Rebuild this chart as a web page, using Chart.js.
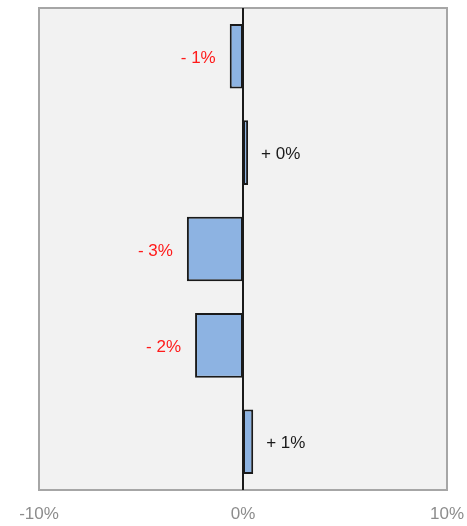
<!DOCTYPE html>
<html>
<head>
<meta charset="utf-8">
<script src="https://cdn.jsdelivr.net/npm/chart.js@4/dist/chart.umd.min.js"></script>
<style>
html,body{margin:0;padding:0;background:#fff;}
#wrap{width:467px;height:526px;position:relative;}
</style>
</head>
<body>
<div id="wrap"><canvas id="c" width="467" height="526"></canvas></div>
<script>
const categories = ["A", "B", "C", "D", "E"];
const values = [-0.65, 0.25, -2.75, -2.35, 0.5];
const valueLabels = ["- 1%", "+ 0%", "- 3%", "- 2%", "+ 1%"];
const xTicks = [-10, 0, 10];

const plotFrame = {
  id: 'plotFrame',
  beforeDraw(chart) {
    const {ctx, chartArea: a} = chart;
    ctx.save();
    ctx.fillStyle = '#f2f2f2';
    ctx.fillRect(a.left, a.top, a.right - a.left, a.bottom - a.top);
    ctx.restore();
  },
  afterDraw(chart) {
    const {ctx, chartArea: a, scales} = chart;
    ctx.save();
    ctx.strokeStyle = '#a6a6a6';
    ctx.lineWidth = 2;
    ctx.strokeRect(a.left, a.top, a.right - a.left, a.bottom - a.top);
    const x0 = scales.x.getPixelForValue(0);
    ctx.strokeStyle = '#1a1a1a';
    ctx.lineWidth = 2;
    ctx.beginPath();
    ctx.moveTo(x0, a.top);
    ctx.lineTo(x0, a.bottom);
    ctx.stroke();
    ctx.restore();
  }
};

const valueLabelPlugin = {
  id: 'valueLabels',
  afterDatasetsDraw(chart) {
    const {ctx} = chart;
    const meta = chart.getDatasetMeta(0);
    ctx.save();
    ctx.font = '17px "Liberation Sans", Arial, sans-serif';
    ctx.textBaseline = 'middle';
    meta.data.forEach((bar, i) => {
      const v = values[i];
      const p = bar.getProps(['x', 'y', 'base'], true);
      if (v < 0) {
        ctx.fillStyle = '#ff1a1a';
        ctx.textAlign = 'right';
        ctx.fillText(valueLabels[i], p.x - 14, p.y + 2);
      } else {
        ctx.fillStyle = '#1a1a1a';
        ctx.textAlign = 'left';
        ctx.fillText(valueLabels[i], p.x + 13, p.y + 2);
      }
    });
    ctx.restore();
  }
};

new Chart(document.getElementById('c'), {
  type: 'bar',
  data: {
    labels: categories,
    datasets: [{
      data: values,
      backgroundColor: '#8db3e2',
      borderColor: '#1a1a1a',
      borderWidth: 2,
      borderSkipped: false,
      barPercentage: 0.67,
      categoryPercentage: 1.0
    }]
  },
  plugins: [plotFrame, valueLabelPlugin],
  options: {
    indexAxis: 'y',
    responsive: false,
    animation: false,
    devicePixelRatio: 1,
    layout: { padding: { left: 39, right: 20, top: 8, bottom: 0 } },
    plugins: { legend: { display: false }, tooltip: { enabled: false } },
    scales: {
      y: { display: false },
      x: {
        min: -10, max: 10,
        afterBuildTicks(scale) { scale.ticks = xTicks.map(v => ({ value: v })); },
        afterFit(scale) {
          scale.height = 36;
          scale.paddingLeft = 0;
          scale.paddingRight = 0;
        },
        grid: { display: false, drawTicks: false },
        border: { display: false },
        ticks: {
          padding: 14,
          color: '#8c8c8c',
          font: { family: '"Liberation Sans", Arial, sans-serif', size: 17, lineHeight: 1.2 },
          callback: v => v + '%',
          maxRotation: 0,
          autoSkip: false
        }
      }
    }
  }
});
</script>
</body>
</html>
